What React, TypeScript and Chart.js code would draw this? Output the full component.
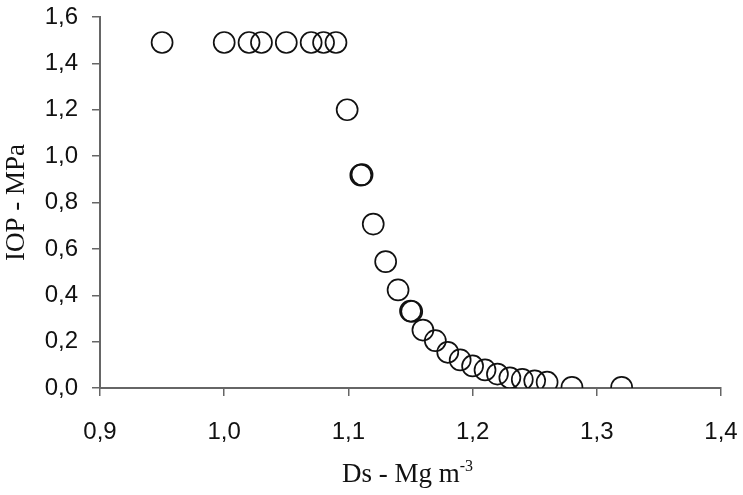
import React, { useEffect, useRef } from "react";
import { Chart, registerables } from "chart.js";

Chart.register(...registerables);

const dsValues = [
  0.95, 1.0, 1.02, 1.03, 1.05, 1.07, 1.08, 1.09, 1.099, 1.11, 1.111, 1.12, 1.13,
  1.14, 1.15, 1.151, 1.16, 1.17, 1.18, 1.19, 1.2, 1.21, 1.22, 1.23,
  1.24, 1.25, 1.26, 1.28, 1.32,
];
const iopValues = [
  1.49, 1.49, 1.49, 1.49, 1.49, 1.49, 1.49, 1.49, 1.2, 0.918, 0.92, 0.707, 0.545,
  0.423, 0.332, 0.33, 0.25, 0.204, 0.154, 0.121, 0.095, 0.078, 0.06, 0.044,
  0.037, 0.031, 0.025, 0.003, 0.003,
];
const xTitle = "Ds - Mg m";
const xTitleSup = "-3";
const yTitle = "IOP - MPa";

const fmt = (v: number) => v.toFixed(1).replace(".", ",");

export default function App() {
  const ref = useRef<HTMLCanvasElement | null>(null);
  useEffect(() => {
    const canvas = ref.current;
    if (!canvas) return;
    const titlePlugin = {
      id: "titles",
      afterDraw(chart: any) {
        const { ctx, chartArea } = chart;
        ctx.save();
        ctx.fillStyle = "#111";
        ctx.font = "27px 'Liberation Serif'";
        ctx.textBaseline = "alphabetic";
        const mainW = ctx.measureText(xTitle).width;
        ctx.font = "16px 'Liberation Serif'";
        const supW = ctx.measureText(xTitleSup).width;
        const total = mainW + supW;
        const cx = (chartArea.left + chartArea.right) / 2;
        const startX = cx - total / 2 - 3;
        const baseY = chartArea.bottom + 94;
        ctx.font = "27px 'Liberation Serif'";
        ctx.textAlign = "left";
        ctx.fillText(xTitle, startX, baseY);
        ctx.font = "16px 'Liberation Serif'";
        ctx.fillText(xTitleSup, startX + mainW, baseY - 11);
        ctx.font = "27px 'Liberation Serif'";
        ctx.translate(24, (chartArea.top + chartArea.bottom) / 2);
        ctx.rotate(-Math.PI / 2);
        ctx.textAlign = "center";
        ctx.fillText(yTitle, 0, 0);
        ctx.restore();
      },
    };
    const chart = new Chart(canvas, {
      type: "scatter",
      data: {
        datasets: [
          {
            data: dsValues.map((x, i) => ({ x, y: iopValues[i] })),
            pointRadius: 10.5,
            pointHoverRadius: 10.5,
            pointBorderWidth: 1.7,
            pointBackgroundColor: "rgba(255,255,255,0)",
            pointBorderColor: "#111",
          },
        ],
      },
      options: {
        animation: false,
        responsive: false,
        maintainAspectRatio: false,
        layout: { padding: { left: 0, top: 17, right: 22, bottom: 0 } },
        plugins: { legend: { display: false }, tooltip: { enabled: false } },
        scales: {
          x: {
            type: "linear",
            min: 0.9,
            max: 1.4,
            afterFit: (s: any) => {
              s.height = 107;
              s.paddingLeft = 0;
              s.paddingRight = 0;
              s.paddingTop = 0;
              s.paddingBottom = 0;
            },
            ticks: {
              stepSize: 0.1,
              callback: (v: any) => fmt(Number(v)),
              font: { family: "'Liberation Sans'", size: 24 },
              color: "#111",
              padding: 22,
              maxRotation: 0,
            },
            grid: {
              drawOnChartArea: false,
              drawTicks: true,
              tickLength: 8,
              color: "#666",
              lineWidth: 1.5,
            },
            border: { color: "#666", width: 2 },
          },
          y: {
            min: 0,
            max: 1.6,
            afterFit: (s: any) => {
              s.width = 100;
              s.paddingLeft = 0;
              s.paddingRight = 0;
              s.paddingTop = 0;
              s.paddingBottom = 0;
            },
            ticks: {
              stepSize: 0.2,
              callback: (v: any) => fmt(Number(v)),
              font: { family: "'Liberation Sans'", size: 24 },
              color: "#111",
              padding: 14,
            },
            grid: {
              drawOnChartArea: false,
              drawTicks: true,
              tickLength: 8,
              color: "#666",
              lineWidth: 1.5,
            },
            border: { color: "#666", width: 2 },
          },
        },
      },
      plugins: [titlePlugin],
    } as any);
    return () => chart.destroy();
  }, []);
  return (
    <div style={{ position: "fixed", left: 0, top: 0, width: 743, height: 495, background: "#fff" }}>
      <canvas ref={ref} width={743} height={495} style={{ width: 743, height: 495 }} />
    </div>
  );
}
